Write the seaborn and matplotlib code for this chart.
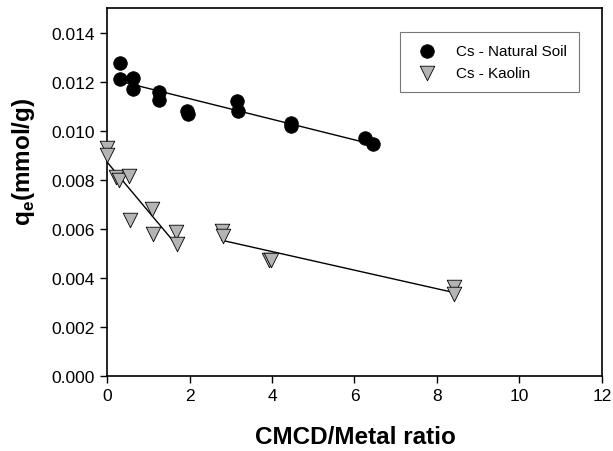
import numpy as np
import pandas as pd
import matplotlib
matplotlib.use("Agg")
import matplotlib.pyplot as plt
import seaborn as sns

# Cs - Natural Soil
soil_ratio = [0.315, 0.315, 0.64, 0.64, 1.27, 1.27, 1.95, 1.97, 3.14, 3.18, 4.45, 4.47, 6.25, 6.46]
soil_qe = [0.01277, 0.01209, 0.01216, 0.01171, 0.01157, 0.01127, 0.01080, 0.01070,
           0.01123, 0.01080, 0.01032, 0.01021, 0.00971, 0.00944]

# Cs - Kaolin (two regimes fitted separately)
kaolin_ratio = [0.0, 0.0, 0.22, 0.30, 0.54, 0.56, 1.10, 1.12, 1.67, 1.70,
                2.78, 2.82, 3.93, 3.98, 8.41, 8.41]
kaolin_qe = [0.00930, 0.00900, 0.00810, 0.00800, 0.00815, 0.00636, 0.00682, 0.00578,
             0.00587, 0.00537, 0.00591, 0.00571, 0.00473, 0.00473, 0.00361, 0.00334]
kaolin_segment = [1] * 10 + [2] * 6

soil = pd.DataFrame({"ratio": soil_ratio, "qe": soil_qe})
kaolin = pd.DataFrame({"ratio": kaolin_ratio, "qe": kaolin_qe, "seg": kaolin_segment})

sns.set_style("ticks")
plt.rcParams["font.family"] = ["Liberation Sans", "DejaVu Sans"]
plt.rcParams["text.color"] = "black"
plt.rcParams["axes.labelcolor"] = "black"
plt.rcParams["mathtext.fontset"] = "custom"
plt.rcParams["mathtext.rm"] = "Liberation Sans:bold"
plt.rcParams["mathtext.bf"] = "Liberation Sans:bold"

fig = plt.figure(figsize=(6.13, 4.52), dpi=100)
ax = fig.add_axes([0.1746, 0.166, 0.8074, 0.814])

line_kws = {"color": "black", "lw": 1.0}
sns.regplot(data=soil, x="ratio", y="qe", scatter=False, ci=None, truncate=True,
            line_kws=line_kws, ax=ax)
for seg, sub in kaolin.groupby("seg"):
    sns.regplot(data=sub, x="ratio", y="qe", scatter=False, ci=None, truncate=True,
                line_kws=line_kws, ax=ax)

sns.scatterplot(data=soil, x="ratio", y="qe", marker="o", s=95, color="black",
                edgecolor="black", linewidth=0.6, label="Cs - Natural Soil", ax=ax,
                zorder=3, clip_on=False)
sns.scatterplot(data=kaolin, x="ratio", y="qe", marker="v", s=110, color="#b4b4b4",
                edgecolor="black", linewidth=0.6, label="Cs - Kaolin", ax=ax,
                zorder=3, clip_on=False)

ax.set_xlim(0, 12)
ax.set_ylim(0, 0.015)
ax.set_xticks(np.arange(0, 13, 2))
ax.set_yticks(np.arange(0, 0.0141, 0.002))
ax.yaxis.set_major_formatter(matplotlib.ticker.FormatStrFormatter("%.3f"))
ax.tick_params(labelsize=12.5, direction="out", length=5, width=1, colors="black", pad=4)
for sp in ax.spines.values():
    sp.set_visible(True)
    sp.set_linewidth(1.2)
    sp.set_color("black")

ax.set_xlabel("CMCD/Metal ratio", fontsize=17.5, fontweight="bold")
ax.set_ylabel(r"q$_\mathregular{e}$(mmol/g)", fontsize=17.5, fontweight="bold")
ax.xaxis.set_label_coords(0.501, -0.133)
ax.yaxis.set_label_coords(-0.142, 0.584)

leg = ax.legend(loc="upper right", bbox_to_anchor=(0.954, 0.935), fontsize=11,
                frameon=True, fancybox=False, borderpad=0.8, handletextpad=0.9,
                borderaxespad=0, markerscale=1.0)
leg.get_frame().set_edgecolor("#555555")
leg.get_frame().set_linewidth(0.8)

plt.savefig("out.png", dpi=100)
